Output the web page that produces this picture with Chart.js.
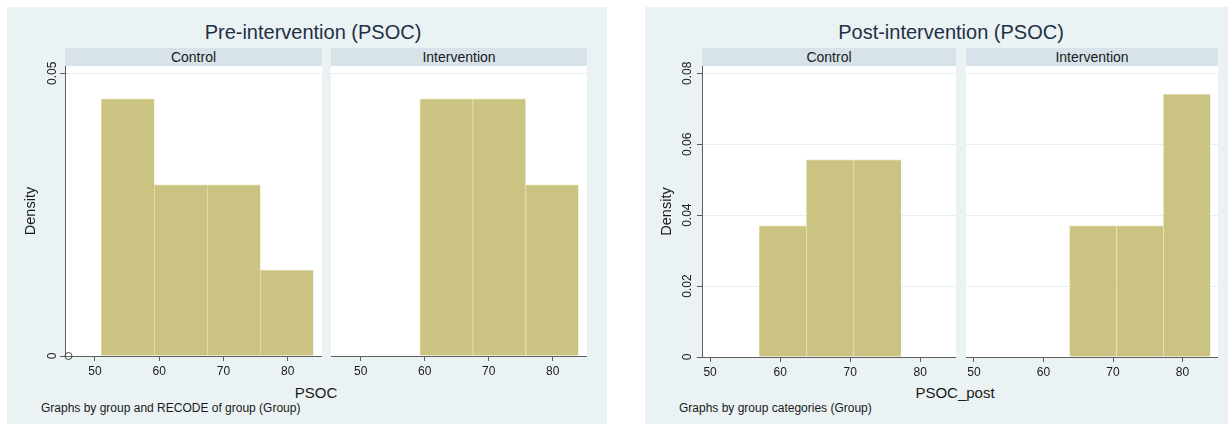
<!DOCTYPE html>
<html>
<head>
<meta charset="utf-8">
<script src="https://cdn.jsdelivr.net/npm/chart.js@4.4.0/dist/chart.umd.min.js"></script>
<style>
  body { margin: 0; width: 1232px; height: 426px; position: relative; overflow: hidden; background: #fff;
         font-family: "Liberation Sans", Arial, sans-serif; }
  .bg { position: absolute; background: #eaf2f3; }
  .title { position: absolute; font-size: 20px; color: #1f2f45; white-space: nowrap; transform: translate(-50%, -50%); }
  .hdr { position: absolute; top: 48px; height: 18px; line-height: 18px; background: #d7e3e9;
         font-size: 14px; color: #1a1a1a; text-align: center; }
  .xtitle { position: absolute; font-size: 15px; color: #1a1a1a; white-space: nowrap; transform: translate(-50%, -50%); }
  .note { position: absolute; font-size: 12px; color: #1a1a1a; white-space: nowrap; transform: translateY(-50%); }
  canvas { position: absolute; }
</style>
</head>
<body>

<div class="bg" style="left:7px;top:7px;width:600px;height:417px"></div>
<div class="bg" style="left:645px;top:7px;width:583px;height:417px"></div>

<div class="title" style="left:313px;top:32px">Pre-intervention (PSOC)</div>
<div class="title" style="left:951px;top:32px">Post-intervention (PSOC)</div>

<div class="hdr" style="left:65px;width:257px">Control</div>
<div class="hdr" style="left:331px;width:256px">Intervention</div>
<div class="hdr" style="left:702px;width:254px">Control</div>
<div class="hdr" style="left:966px;width:252px">Intervention</div>

<!-- canvases start 16px above the plot so the rotated top tick label is not cut -->
<canvas id="preControl" width="315" height="332" style="left:7px;top:50px"></canvas>
<canvas id="preIntervention" width="256" height="332" style="left:331px;top:50px"></canvas>
<canvas id="postControl" width="311" height="333" style="left:645px;top:50px"></canvas>
<canvas id="postIntervention" width="252" height="333" style="left:966px;top:50px"></canvas>

<div class="xtitle" style="left:316px;top:392px">PSOC</div>
<div class="xtitle" style="left:955px;top:392px">PSOC_post</div>
<div class="note" style="left:41px;top:408px">Graphs by group and RECODE of group (Group)</div>
<div class="note" style="left:679px;top:408px">Graphs by group categories (Group)</div>

<script>
// pre-intervention histogram (bin starts, density per bin)
var preBinStarts = [51, 59.25, 67.5, 75.75];
var preBinWidth = 8.25;
var preControl = [0.0455, 0.0303, 0.0303, 0.0152];
var preIntervention = [null, 0.0455, 0.0455, 0.0303];
var preXTicks = [50, 60, 70, 80];
var preYTicks = [0, 0.05];
// the little circle Stata left at the origin of the first panel
var preMarkerX = [45.9];
var preMarkerY = [0];

// post-intervention histogram
var postBinStarts = [57, 63.75, 70.5, 77.25];
var postBinWidth = 6.75;
var postControl = [0.037, 0.0556, 0.0556, null];
var postIntervention = [null, 0.037, 0.037, 0.0741];
var postXTicks = [50, 60, 70, 80];
var postYTicks = [0, 0.02, 0.04, 0.06, 0.08];

Chart.defaults.font.family = '"Liberation Sans", Arial, sans-serif';
Chart.defaults.color = '#1a1a1a';

var barColor = '#cbc382';
var barEdge = '#e0dbab';
var axisColor = '#5f5f5f';
var gridColor = '#e6eff1';
var topPad = 16;

// fill the plot region white, the rest of the canvas stays see-through
var plotBg = {
  id: 'plotBg',
  beforeDraw: function(chart) {
    var a = chart.chartArea, ctx = chart.ctx;
    ctx.save();
    ctx.fillStyle = '#ffffff';
    ctx.fillRect(a.left, a.top, a.right - a.left, a.bottom - a.top);
    ctx.restore();
  }
};

function binPoints(starts, width, vals) {
  var pts = [];
  for (var i = 0; i < starts.length; i++) {
    pts.push({ x: starts[i] + width / 2, y: vals[i] });
  }
  return pts;
}

function makePanel(id, cfg) {
  var datasets = [{
    type: 'bar',
    data: binPoints(cfg.starts, cfg.width, cfg.vals),
    backgroundColor: barColor,
    borderColor: barEdge,
    borderWidth: { left: 1, right: 0, top: 1, bottom: 0 },
    borderSkipped: false,
    barPercentage: 1,
    categoryPercentage: 1
  }];
  if (cfg.markerX) {
    datasets.push({
      type: 'scatter',
      data: cfg.markerX.map(function(x, i) { return { x: x, y: cfg.markerY[i] }; }),
      pointStyle: 'circle',
      pointRadius: 3.5,
      backgroundColor: 'rgba(0,0,0,0)',
      borderColor: '#444',
      borderWidth: 1,
      clip: false
    });
  }

  var yScale;
  if (cfg.showY) {
    yScale = {
      min: 0, max: cfg.yMax,
      afterBuildTicks: function(s) { s.ticks = cfg.yTicks.map(function(v) { return { value: v }; }); },
      afterFit: function(s) { s.width = cfg.yWidth; s.paddingTop = 0; s.paddingBottom = 0; },
      border: { display: true, color: axisColor, width: 1 },
      grid: { color: gridColor, lineWidth: 1, drawTicks: true, tickLength: 5, tickColor: axisColor },
      ticks: { minRotation: 90, maxRotation: 90, crossAlign: 'center', padding: cfg.yPad,
               font: { size: 12 }, color: '#1a1a1a' },
      title: { display: true, text: 'Density', font: { size: 14.5 }, color: '#1a1a1a',
               padding: { top: cfg.titlePad, bottom: 0 } }
    };
  } else {
    yScale = {
      min: 0, max: cfg.yMax,
      afterBuildTicks: function(s) { s.ticks = cfg.yTicks.map(function(v) { return { value: v }; }); },
      afterFit: function(s) { s.width = 0; s.paddingTop = 0; s.paddingBottom = 0; },
      border: { display: false },
      grid: { color: gridColor, lineWidth: 1, drawTicks: false },
      ticks: { display: false }
    };
  }

  return new Chart(document.getElementById(id), {
    type: 'bar',
    data: { datasets: datasets },
    options: {
      responsive: false,
      animation: false,
      layout: { padding: { top: topPad, left: 0, right: 0, bottom: 0 }, autoPadding: false },
      plugins: { legend: { display: false }, tooltip: { enabled: false } },
      scales: {
        x: {
          type: 'linear', min: cfg.xMin, max: cfg.xMax, offset: false,
          afterBuildTicks: function(s) { s.ticks = cfg.xTicks.map(function(v) { return { value: v }; }); },
          afterFit: function(s) { s.height = 26; s.paddingLeft = 0; s.paddingRight = 0; },
          border: { display: true, color: axisColor, width: 1 },
          grid: { display: true, drawOnChartArea: false, offset: false, drawTicks: true,
                  tickLength: 5, tickColor: axisColor },
          ticks: { padding: 3, minRotation: 0, maxRotation: 0, autoSkip: false,
                   font: { size: 12 }, color: '#1a1a1a' }
        },
        y: yScale
      }
    },
    plugins: [plotBg]
  });
}

makePanel('preControl', {
  starts: preBinStarts, width: preBinWidth, vals: preControl,
  xMin: 45.35, xMax: 85.35, xTicks: preXTicks,
  yMax: 0.0513, yTicks: preYTicks,
  showY: true, yWidth: 58, yPad: -4, titlePad: 14.8,
  markerX: preMarkerX, markerY: preMarkerY
});
makePanel('preIntervention', {
  starts: preBinStarts, width: preBinWidth, vals: preIntervention,
  xMin: 45.35, xMax: 85.35, xTicks: preXTicks,
  yMax: 0.0513, yTicks: preYTicks, showY: false
});
makePanel('postControl', {
  starts: postBinStarts, width: postBinWidth, vals: postControl,
  xMin: 48.85, xMax: 85.1, xTicks: postXTicks,
  yMax: 0.08206, yTicks: postYTicks,
  showY: true, yWidth: 57, yPad: -2, titlePad: 13
});
makePanel('postIntervention', {
  starts: postBinStarts, width: postBinWidth, vals: postIntervention,
  xMin: 48.85, xMax: 85.1, xTicks: postXTicks,
  yMax: 0.08206, yTicks: postYTicks, showY: false
});
</script>
</body>
</html>
